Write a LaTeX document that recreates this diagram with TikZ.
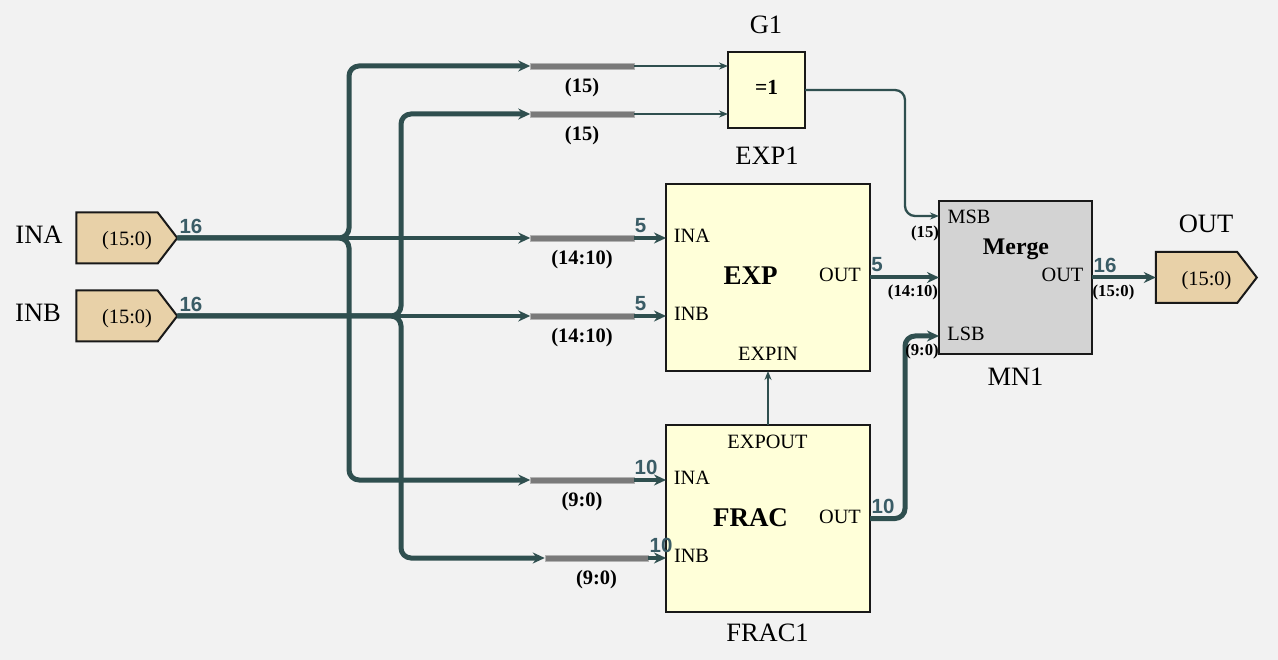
\documentclass[tikz,border=0pt]{standalone}
\usepackage{fontspec}
\setmainfont{Liberation Serif}
\newfontfamily\widthfont{Liberation Sans}
\usetikzlibrary{arrows.meta,shapes.symbols,positioning}
\definecolor{wirecol}{HTML}{2F4F4F}
\definecolor{bgcol}{HTML}{F2F2F2}
\definecolor{portcol}{HTML}{E8D1A8}
\definecolor{blockcol}{HTML}{FFFFD9}
\definecolor{mergecol}{HTML}{D3D3D3}
\definecolor{widthcol}{HTML}{3A5C66}
\newcommand{\fsize}[1]{\fontsize{#1}{#1}\selectfont}
\newcommand{\porttext}{\hspace*{20pt}(15:0)}
\tikzset{every node/.style={inner sep=0pt, outer sep=0pt}}
\tikzset{port/.style={shape=signal, signal to=east, signal pointer angle=105, draw=black!90, fill=portcol,
    line width=2pt, minimum width=101pt, minimum height=51pt, font=\fsize{20.4}, text height=17pt, text depth=1pt}}
\tikzset{block/.style={shape=rectangle, draw=black!90, fill=blockcol, line width=2pt}}
\tikzset{slice/.style={shape=rectangle, fill=black!52, draw=black!30, line width=.5pt, minimum width=103.5pt, minimum height=6pt}}
\tikzset{titlelabel/.style={font=\fsize{26.5}}}
\tikzset{pinlabel/.style={font=\fsize{20.3}}}
\tikzset{rangelabel/.style={font=\fsize{20.5}\bfseries}}
\tikzset{smallrange/.style={font=\fsize{16.7}\bfseries}}
\tikzset{widthlabel/.style={font=\fsize{20.5}\widthfont\bfseries, text=widthcol}}
\tikzset{wire/.style={draw=wirecol, line width=2.3pt, -{Stealth[length=9pt,width=7pt]}}}
\tikzset{midbus/.style={wire, line width=4pt, -{Stealth[length=12pt,width=11pt]}}}
\tikzset{bus/.style={wire, line width=5pt, rounded corners=10pt, -{Stealth[length=12pt,width=11pt]}}}

\begin{document}
\begin{tikzpicture}[x=1pt, y=-1pt]
    \path[fill=bgcol] (0,0) rectangle (1278,660);

    \node(ina)[port] at (117,238) {\porttext};
    \node(inb)[port] at (117,316) {\porttext};
    \node(outp)[port] at (1196.5,277.5) {\porttext};

    \node(g1)[block, minimum width=77pt, minimum height=76pt] at (766.5,90) {};
    \node(exp)[block, minimum width=204pt, minimum height=187pt] at (768,277.5) {};
    \node(frac)[block, minimum width=204pt, minimum height=187pt] at (768,518.5) {};
    \node(merge)[block, fill=mergecol, minimum width=153pt, minimum height=153pt] at (1015.5,277.5) {};

    \node(s1)[slice] at (582,66) {};
    \node(s2)[slice] at (582,114) {};
    \node(s3)[slice] at (582,238) {};
    \node(s4)[slice] at (582,316) {};
    \node(s5)[slice] at (582,480) {};
    \node(s6)[slice] at (596.5,558) {};

    \coordinate (vina) at (349,0);
    \coordinate (vinb) at (401,0);
    \coordinate (vout) at (905,0);

    % inputs to the slices
    \draw [bus] (ina.east) -- (vina |- ina.east) -- (vina |- s1.west) -- (s1.west);
    \draw [bus] (ina.east) -- (vina |- ina.east) -- (vina |- s5.west) -- (s5.west);
    \draw [midbus] (ina.east) to (s3.west);
    \draw [bus] (inb.east) -- (vinb |- inb.east) -- (vinb |- s2.west) -- (s2.west);
    \draw [bus] (inb.east) -- (vinb |- inb.east) -- (vinb |- s6.west) -- (s6.west);
    \draw [midbus] (inb.east) to (s4.west);

    \draw [wire] (s1.east) to (s1.east -| g1.west);
    \draw [wire] (s2.east) to (s2.east -| g1.west);
    \draw [midbus] (s3.east) to (s3.east -| exp.west);
    \draw [midbus] (s4.east) to (s4.east -| exp.west);
    \draw [midbus] (s5.east) to (s5.east -| frac.west);
    \draw [midbus] (s6.east) to (s6.east -| frac.west);

    \coordinate (msb) at (939,216);
    \coordinate (lsb) at (939,336);
    \draw [wire, rounded corners=10pt] (g1.east) -- (vout |- g1.east) -- (vout |- msb) -- (msb);
    \draw [bus] (frac.east) -- (vout |- frac.east) -- (vout |- lsb) -- (lsb);
    \draw [midbus] (exp.east) to (merge.west);
    \draw [midbus] (merge.east) to (outp.west);
    \draw [wire] (frac.north) to (exp.south);

    \node(lina)[titlelabel] at (39,235) {INA};
    \node(linb)[titlelabel] at (38,312.5) {INB};
    \node(lout)[titlelabel] at (1206,224) {OUT};
    \node(lg1)[titlelabel] at (766,25) {G1};
    \node(lexp1)[titlelabel] at (767,156) {EXP1};
    \node(lmn1)[titlelabel] at (1015.5,377) {MN1};
    \node(lfrac1)[titlelabel] at (767.5,633) {FRAC1};

    \node(xor)[font=\fsize{21.5}\bfseries] at (766.5,87) {=1};
    \node(tmerge)[font=\fsize{23.8}\bfseries] at (1016,249) {Merge};
    \node(texp)[font=\fsize{27}\bfseries] at (750.5,276) {EXP};
    \node(tfrac)[font=\fsize{27}\bfseries] at (750.5,518) {FRAC};

    \node(pa1)[pinlabel] at (692,236) {INA};
    \node(pb1)[pinlabel] at (691.5,314) {INB};
    \node(po1)[pinlabel] at (840,275) {OUT};
    \node(pi1)[pinlabel] at (768,354) {EXPIN};
    \node(po2)[pinlabel] at (767.5,442) {EXPOUT};
    \node(pa2)[pinlabel] at (692,478) {INA};
    \node(pb2)[pinlabel] at (691.5,556) {INB};
    \node(po3)[pinlabel] at (840,517) {OUT};
    \node(pm)[pinlabel] at (969,217) {MSB};
    \node(pl)[pinlabel] at (966,334) {LSB};
    \node(po4)[pinlabel] at (1062.5,275) {OUT};

    \node(r1)[rangelabel] at (582,88) {(15)};
    \node(r2)[rangelabel] at (582,136) {(15)};
    \node(r3)[rangelabel] at (582,260) {(14:10)};
    \node(r4)[rangelabel] at (582,338) {(14:10)};
    \node(r5)[rangelabel] at (582,502) {(9:0)};
    \node(r6)[rangelabel] at (596.5,580) {(9:0)};
    \node(r7)[smallrange] at (925,233) {(15)};
    \node(r8)[smallrange] at (913,292) {(14:10)};
    \node(r9)[smallrange] at (922,351) {(9:0)};
    \node(r10)[smallrange] at (1113.5,292) {(15:0)};

    \node(w1)[widthlabel] at (191,226) {16};
    \node(w2)[widthlabel] at (191,304) {16};
    \node(w3)[widthlabel] at (640.5,226) {5};
    \node(w4)[widthlabel] at (640.5,304) {5};
    \node(w5)[widthlabel] at (646,467) {10};
    \node(w6)[widthlabel] at (661,545) {10};
    \node(w7)[widthlabel] at (877,264.5) {5};
    \node(w8)[widthlabel] at (883,506) {10};
    \node(w9)[widthlabel] at (1105,265) {16};
\end{tikzpicture}
\end{document}
